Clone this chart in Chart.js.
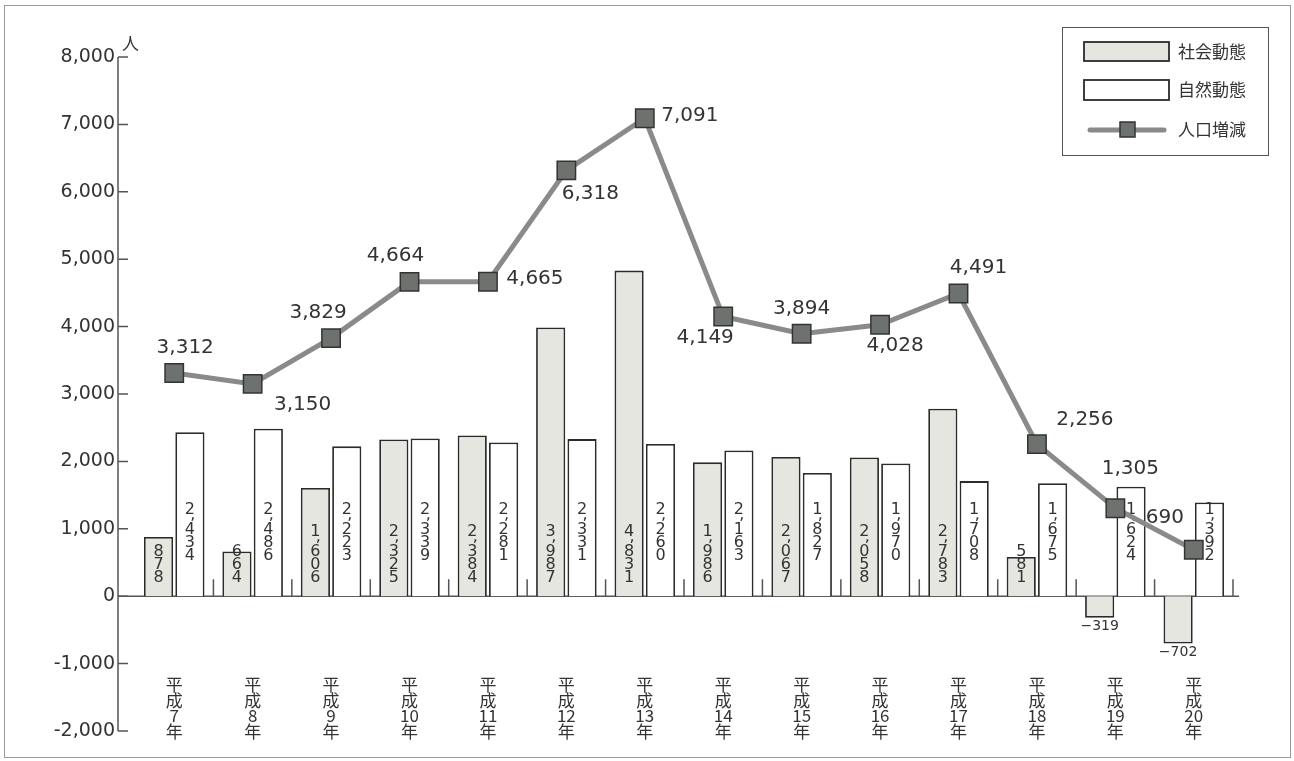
<!DOCTYPE html>
<html>
<head>
<meta charset="utf-8">
<script src="https://cdn.jsdelivr.net/npm/chart.js@4.4.1/dist/chart.umd.min.js"></script>
<style>
  html, body { margin: 0; background: #fff; }
  #wrap { width: 1294px; height: 761px; }
</style>
</head>
<body>
<div id="wrap"><canvas id="chart"></canvas></div>
<script>
// 平成7年〜平成20年
const years = ['7', '8', '9', '10', '11', '12', '13', '14', '15', '16', '17', '18', '19', '20']
const socialChange = [878, 664, 1606, 2325, 2384, 3987, 4831, 1986, 2067, 2058, 2783, 581, -319, -702]
const naturalChange = [2434, 2486, 2223, 2339, 2281, 2331, 2260, 2163, 1827, 1970, 1708, 1675, 1624, 1392]
const populationChange = [3312, 3150, 3829, 4664, 4665, 6318, 7091, 4149, 3894, 4028, 4491, 2256, 1305, 690]
const yMin = -2000
const yMax = 8000
const yStep = 1000

// where each line label sits relative to its point (px)
const lineLabelOffsets = [
  [11, -25], [50, 21], [-13, -25], [-14, -26], [47, -3], [24, 23], [45, -2],
  [-18, 21], [0, -25], [15, 21], [20, -26], [48, -24], [15, -39], [-29, -32]
]

const TEXT = '#333'
const SOCIAL_FILL = '#e6e6e0'
const BAR_BORDER = '#2b2b2b'
const LINE_COLOR = '#8a8a8a'
const MARKER_FILL = '#6e726e'
const NUM_FONT = '"DejaVu Sans", sans-serif'
const JP_FONT = '"Noto Sans CJK JP", sans-serif'

const fmt = v => v.toLocaleString('en-US')

// draw a number with one character per line, comma tucked in
function stackedText(ctx, str, x, yStart) {
  let y = yStart
  for (const ch of str) {
    if (ch === ',') {
      ctx.fillText(ch, x + 3, y - 2)
      y += 7
    } else {
      ctx.fillText(ch, x, y + 6)
      y += 13
    }
  }
}
function stackedHeight(str) {
  let h = 0
  for (const ch of str) h += ch === ',' ? 7 : 13
  return h
}

const decorations = {
  id: 'decorations',
  beforeDatasetsDraw(chart) {
    const { ctx, chartArea } = chart
    const x = chart.scales.x
    const y = chart.scales.y
    const y0 = y.getPixelForValue(0)
    const axisX = chartArea.left - 17

    ctx.save()
    // outer frame
    ctx.strokeStyle = '#999'
    ctx.lineWidth = 1
    ctx.strokeRect(4.5, 5.5, 1286, 752)

    // y axis line + ticks
    ctx.strokeStyle = '#555'
    ctx.lineWidth = 1.5
    ctx.beginPath()
    ctx.moveTo(axisX, y.getPixelForValue(yMax))
    ctx.lineTo(axisX, y.getPixelForValue(yMin))
    for (let v = yMin; v <= yMax; v += yStep) {
      const py = y.getPixelForValue(v)
      ctx.moveTo(axisX, py)
      ctx.lineTo(axisX + 10, py)
    }
    ctx.stroke()

    ctx.fillStyle = TEXT
    ctx.font = '19px ' + NUM_FONT
    ctx.textAlign = 'right'
    ctx.textBaseline = 'middle'
    for (let v = yMin; v <= yMax; v += yStep) {
      ctx.fillText(fmt(v), axisX - 3, y.getPixelForValue(v))
    }
    ctx.textAlign = 'left'
    ctx.font = '17px ' + JP_FONT
    ctx.fillText('人', axisX + 4, y.getPixelForValue(yMax) - 13)

    // zero line with category separators
    ctx.beginPath()
    ctx.moveTo(axisX, y0)
    ctx.lineTo(chartArea.right + 6, y0)
    for (let i = 0; i < years.length; i++) {
      const bx = (x.getPixelForValue(i) + x.getPixelForValue(i + 1)) / 2
      ctx.moveTo(bx, y0)
      ctx.lineTo(bx, y0 - 17)
    }
    ctx.stroke()

    // category labels, written vertically
    ctx.textAlign = 'center'
    ctx.font = '17px ' + JP_FONT
    const top = y.getPixelForValue(yMin) - 46
    years.forEach((yr, i) => {
      const cx = x.getPixelForValue(i)
      ;['平', '成', yr, '年'].forEach((t, k) => ctx.fillText(t, cx, top + k * 15.5))
    })
    ctx.restore()
  },
  beforeDatasetDraw(chart, args) {
    if (args.index !== 0) return
    // bar values, drawn under the line
    const { ctx } = chart
    const y0 = chart.scales.y.getPixelForValue(0)
    const socialMeta = chart.getDatasetMeta(1)
    const naturalMeta = chart.getDatasetMeta(2)
    ctx.save()
    ctx.fillStyle = TEXT
    ctx.font = '16px ' + NUM_FONT
    ctx.textAlign = 'center'
    ctx.textBaseline = 'middle'
    socialChange.forEach((v, i) => {
      const bar = socialMeta.data[i]
      if (v >= 0) {
        const s = fmt(v)
        stackedText(ctx, s, bar.x, y0 - 11 - stackedHeight(s))
      } else {
        ctx.font = '14px ' + NUM_FONT
        ctx.fillText('−' + fmt(-v), bar.x, bar.y + 9)
        ctx.font = '16px ' + NUM_FONT
      }
    })
    naturalChange.forEach((v, i) => {
      const bar = naturalMeta.data[i]
      stackedText(ctx, fmt(v), bar.x, y0 - 92)
    })
    ctx.restore()
  },
  afterDatasetsDraw(chart) {
    const { ctx } = chart
    const lineMeta = chart.getDatasetMeta(0)
    ctx.save()
    ctx.fillStyle = TEXT
    ctx.font = '20px ' + NUM_FONT
    ctx.textAlign = 'center'
    ctx.textBaseline = 'middle'
    populationChange.forEach((v, i) => {
      const p = lineMeta.data[i]
      const [dx, dy] = lineLabelOffsets[i]
      ctx.fillText(fmt(v), p.x + dx, p.y + dy)
    })

    // legend
    ctx.strokeStyle = '#555'
    ctx.lineWidth = 1
    ctx.strokeRect(1062.5, 27.5, 206, 128)
    ctx.lineWidth = 1.8
    ctx.strokeStyle = BAR_BORDER
    ctx.fillStyle = SOCIAL_FILL
    ctx.fillRect(1084, 42, 85, 19)
    ctx.strokeRect(1084, 42, 85, 19)
    ctx.fillStyle = '#fff'
    ctx.fillRect(1084, 80, 85, 20)
    ctx.strokeRect(1084, 80, 85, 20)
    ctx.strokeStyle = LINE_COLOR
    ctx.lineWidth = 5
    ctx.lineCap = 'round'
    ctx.beginPath()
    ctx.moveTo(1090, 130)
    ctx.lineTo(1164, 130)
    ctx.stroke()
    ctx.fillStyle = MARKER_FILL
    ctx.strokeStyle = '#333'
    ctx.lineWidth = 1.5
    ctx.fillRect(1120, 122, 15, 15)
    ctx.strokeRect(1120, 122, 15, 15)

    ctx.fillStyle = TEXT
    ctx.font = '17px ' + JP_FONT
    ctx.textAlign = 'left'
    ctx.fillText('社会動態', 1178, 52)
    ctx.fillText('自然動態', 1178, 90)
    ctx.fillText('人口増減', 1178, 130)
    ctx.restore()
  }
}

new Chart(document.getElementById('chart'), {
  type: 'bar',
  data: {
    labels: years.map(y => '平成' + y + '年'),
    datasets: [
      {
        type: 'line',
        label: '人口増減',
        data: populationChange,
        borderColor: LINE_COLOR,
        borderWidth: 5,
        pointStyle: 'rect',
        pointRadius: 13,
        pointBackgroundColor: MARKER_FILL,
        pointBorderColor: '#333',
        pointBorderWidth: 1.5,
        tension: 0
      },
      {
        label: '社会動態',
        data: socialChange,
        backgroundColor: SOCIAL_FILL,
        borderColor: BAR_BORDER,
        borderWidth: 1.8,
        categoryPercentage: 0.8,
        barPercentage: 0.93
      },
      {
        label: '自然動態',
        data: naturalChange,
        backgroundColor: '#fff',
        borderColor: BAR_BORDER,
        borderWidth: 1.8,
        categoryPercentage: 0.8,
        barPercentage: 0.93
      }
    ]
  },
  options: {
    responsive: true,
    maintainAspectRatio: false,
    animation: false,
    devicePixelRatio: 1,
    layout: { padding: { left: 135, right: 61, top: 57, bottom: 30 } },
    plugins: {
      legend: { display: false },
      tooltip: { enabled: false }
    },
    scales: {
      x: { display: false },
      y: { display: false, min: yMin, max: yMax, ticks: { stepSize: yStep } }
    }
  },
  plugins: [decorations]
})
</script>
</body>
</html>
